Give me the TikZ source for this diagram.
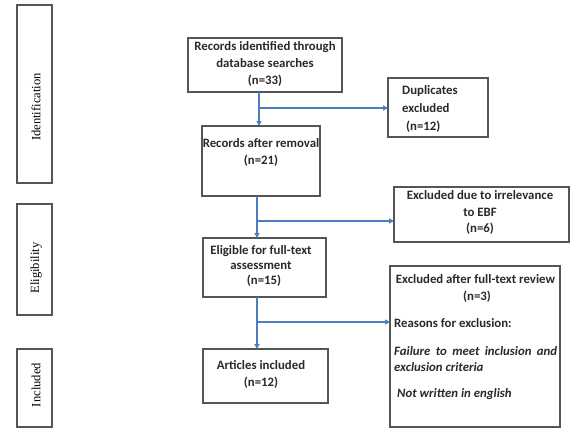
\documentclass[tikz,border=0pt]{standalone}
\usepackage{fontspec}
\setmainfont{Carlito}
\newfontfamily\sideserif{Liberation Serif}
\usetikzlibrary{arrows.meta}
\definecolor{arrblue}{HTML}{4A7EC0}
\definecolor{boxgray}{HTML}{555555}
\definecolor{txt}{HTML}{2A2A2A}
\begin{document}
\begin{tikzpicture}[x=1pt,y=-1pt,
  box/.style={draw=boxgray,line width=1.4pt,inner sep=0pt,outer sep=0pt,rectangle},
  sidelabel/.style={font=\sideserif\fontsize{12.6}{14}\selectfont,text=black,rotate=90,inner sep=0pt},
  btext/.style={font=\bfseries\fontsize{12.8}{17}\selectfont,text=txt,inner sep=0pt,align=center},
  arr/.style={draw=arrblue,line width=1.1pt,-{Triangle[width=5pt,length=5pt]}}]
\useasboundingbox (0,0) rectangle (588,440);
\fill[white] (0,0) rectangle (588,440);
% side boxes
\node[box,minimum width=35pt,minimum height=178pt] (sid) at (34.5,94) {};
\node[box,minimum width=35pt,minimum height=111pt] (sel) at (34.5,259.5) {};
\node[box,minimum width=35pt,minimum height=78pt] (sinc) at (34.5,388) {};
\node[sidelabel] (lid) at (36,107) {Identification};
\node[sidelabel] (lel) at (36,268) {Eligibility};
\node[sidelabel] (linc) at (36,385) {Included};
% main boxes
\node[box,minimum width=154pt,minimum height=54pt] (b1) at (265,65) {};
\node[box,minimum width=118pt,minimum height=70pt] (b2) at (261,161) {};
\node[box,minimum width=123pt,minimum height=59pt] (b3) at (264.5,267.5) {};
\node[box,minimum width=125pt,minimum height=54pt] (b4) at (265.5,376) {};
\node[box,minimum width=100pt,minimum height=59pt] (d1) at (438,107.5) {};
\node[box,minimum width=175pt,minimum height=55pt] (d2) at (481.5,214.5) {};
\node[box,minimum width=170pt,minimum height=161pt] (d3) at (475,346.5) {};
% texts
\node[btext] (t1) at (265,64) {Records identified through\\database searches\\(n=33)};
\node[btext] (t2) at (261,152) {Records after removal\\(n=21)};
\node[btext,font=\bfseries\fontsize{12.8}{15}\selectfont] (t3) at (261,266) {Eligible for full-text\\assessment\\\hspace{6pt}(n=15)};
\node[btext] (t4) at (261,374) {Articles included\\(n=12)};
\node[btext,align=left,anchor=west,font=\bfseries\fontsize{12.8}{18}\selectfont] (td1) at (402,109) {Duplicates\\excluded\\\hspace{4pt}(n=12)};
\node[btext,font=\bfseries\fontsize{12.8}{16.5}\selectfont] (td2) at (480,212.5) {Excluded due to irrelevance\\to EBF\\(n=6)};
\node[btext] (td3a) at (475.5,279) {Excluded after full-text review};
\node[btext] (td3b) at (477,297) {(n=3)};
\node[btext,anchor=west] (td3c) at (394,323) {Reasons for exclusion:};
\node[btext,anchor=west,align=justify,text width=163pt,font=\bfseries\itshape\fontsize{12.8}{16}\selectfont] (td3d) at (394,359) {Failure to meet inclusion and\linebreak exclusion criteria};
\node[btext,anchor=west,font=\bfseries\itshape\fontsize{12.8}{16}\selectfont] (td3e) at (397,394) {Not written in english};
% connectors
\coordinate (c1) at (259,108);
\coordinate (c2) at (257,221);
\coordinate (c3) at (257,322);
\draw[arr] (b1.south -| c1) -- (b2.north -| c1);
\draw[arr] (c1) -- (c1 -| d1.west);
\draw[arr] (b2.south -| c2) -- (b3.north -| c2);
\draw[arr] (c2) -- (c2 -| d2.west);
\draw[arr] (b3.south -| c3) -- (b4.north -| c3);
\draw[arr] (c3) -- (c3 -| d3.west);
\end{tikzpicture}
\end{document}
